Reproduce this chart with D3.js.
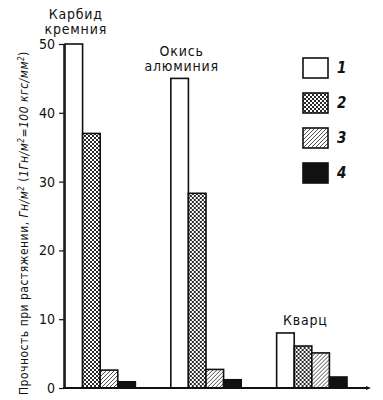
<!DOCTYPE html>
<html>
<head>
<meta charset="utf-8">
<script src="https://cdn.jsdelivr.net/npm/d3@7"></script>
<style>
  body { margin: 0; background: #fff; }
  svg text { font-family: "DejaVu Sans Condensed", "Liberation Sans Narrow", sans-serif; fill: #111; }
</style>
</head>
<body>
<svg id="chart"></svg>
<script>
// Data
const materials = ["Карбид кремния", "Окись алюминия", "Кварц"];
const materialLines = [["Карбид", "кремния"], ["Окись", "алюминия"], ["Кварц"]];
const series = ["1", "2", "3", "4"];
const values = [
    [50, 37, 2.6, 0.9],
    [45, 28.3, 2.7, 1.2],
    [8.0, 6.1, 5.1, 1.6]
];
const yTicks = [0, 10, 20, 30, 40, 50];

const width = 383, height = 400;
const svg = d3.select("#chart").attr("width", width).attr("height", height);

const y = d3.scaleLinear().domain([0, 50]).range([388, 44]);
const x0 = d3.scaleBand().domain(materials).range([65, 347]).paddingInner(0.335).paddingOuter(0);
const x1 = d3.scaleBand().domain(series).range([0, x0.bandwidth()]);

// Patterns
const defs = svg.append("defs");
const cross = defs.append("pattern")
    .attr("id", "cross").attr("patternUnits", "userSpaceOnUse")
    .attr("width", 4).attr("height", 4);
cross.append("rect").attr("width", 4).attr("height", 4).attr("fill", "#fff");
cross.append("path").attr("d", "M0,0 L4,4 M4,0 L0,4")
    .attr("stroke", "#111").attr("stroke-width", 0.9);
const hatch = defs.append("pattern")
    .attr("id", "hatch").attr("patternUnits", "userSpaceOnUse")
    .attr("width", 4).attr("height", 4);
hatch.append("rect").attr("width", 4).attr("height", 4).attr("fill", "#fff");
hatch.append("path").attr("d", "M-1,1 L1,-1 M0,4 L4,0 M3,5 L5,3")
    .attr("stroke", "#222").attr("stroke-width", 0.8);

const fills = { "1": "#fff", "2": "url(#cross)", "3": "url(#hatch)", "4": "#111" };

// Axis
const yAxis = d3.axisLeft(y).tickValues(yTicks).tickSize(5).tickPadding(4);
const gy = svg.append("g").attr("transform", "translate(64,0)").call(yAxis);
gy.select(".domain").remove();
gy.append("line").attr("x1", 0).attr("x2", 0).attr("y1", y(50)).attr("y2", y(0))
    .attr("stroke", "#111").attr("stroke-width", 1.5);
gy.selectAll(".tick line").attr("stroke", "#111").attr("stroke-width", 1.2);
gy.selectAll(".tick text").style("font-size", "14px").attr("fill", "#111")
    .style("font-family", "'DejaVu Sans Condensed', sans-serif");

// Bars
const groups = svg.selectAll(".group").data(values).enter().append("g")
    .attr("transform", (d, i) => `translate(${x0(materials[i])},0)`);
groups.selectAll("rect").data(d => d.map((v, j) => ({ key: series[j], v })))
    .enter().append("rect")
    .attr("x", d => x1(d.key))
    .attr("y", d => y(d.v))
    .attr("width", x1.bandwidth())
    .attr("height", d => y(0) - y(d.v))
    .attr("fill", d => fills[d.key])
    .attr("stroke", "#111").attr("stroke-width", 1.6);

// Baseline with small arrow tip
svg.append("line").attr("x1", 63).attr("x2", 368).attr("y1", y(0)).attr("y2", y(0))
    .attr("stroke", "#111").attr("stroke-width", 1.8);
svg.append("path").attr("d", `M366,${y(0) - 2} L371,${y(0)} L366,${y(0) + 2} Z`).attr("fill", "#111");

// Category labels
const labelDx = [2, 2, 20];
const labelDy = [0, 3, 2];
materialLines.forEach((lines, i) => {
    const cx = x0(materials[i]) + x1.bandwidth() / 2 + labelDx[i];
    const top = y(d3.max(values[i])) - 10 - (lines.length - 1) * 15 + labelDy[i];
    lines.forEach((t, k) => {
        svg.append("text").attr("x", cx).attr("y", top + k * 15)
            .attr("text-anchor", "middle").style("font-size", "14px")
            .style("letter-spacing", "0.8px").text(t);
    });
});

// Legend
const legend = svg.append("g").attr("transform", "translate(303,58)");
const item = legend.selectAll("g").data(series).enter().append("g")
    .attr("transform", (d, i) => `translate(0,${i * 35})`);
item.append("rect").attr("width", 25).attr("height", 20)
    .attr("fill", d => fills[d]).attr("stroke", "#111").attr("stroke-width", 1.6);
item.append("text").attr("x", 34).attr("y", 15)
    .style("font-size", "15px").style("font-style", "italic").style("font-weight", "bold")
    .text(d => d);

// Y axis title
const title = svg.append("text")
    .attr("transform", "translate(28,395) rotate(-90)")
    .style("font-size", "12px").style("letter-spacing", "0.5px");
title.append("tspan").text("Прочность при растяжении, ");
title.append("tspan").style("font-style", "italic").text("Гн/м");
title.append("tspan").style("font-style", "italic").attr("dy", -4).style("font-size", "8px").text("2");
title.append("tspan").attr("dy", 4).text(" (");
title.append("tspan").style("font-style", "italic").text("1Гн/м");
title.append("tspan").style("font-style", "italic").attr("dy", -4).style("font-size", "8px").text("2");
title.append("tspan").style("font-style", "italic").attr("dy", 4).text("=100 кгс/мм");
title.append("tspan").style("font-style", "italic").attr("dy", -4).style("font-size", "8px").text("2");
title.append("tspan").attr("dy", 4).text(")");
</script>
</body>
</html>
